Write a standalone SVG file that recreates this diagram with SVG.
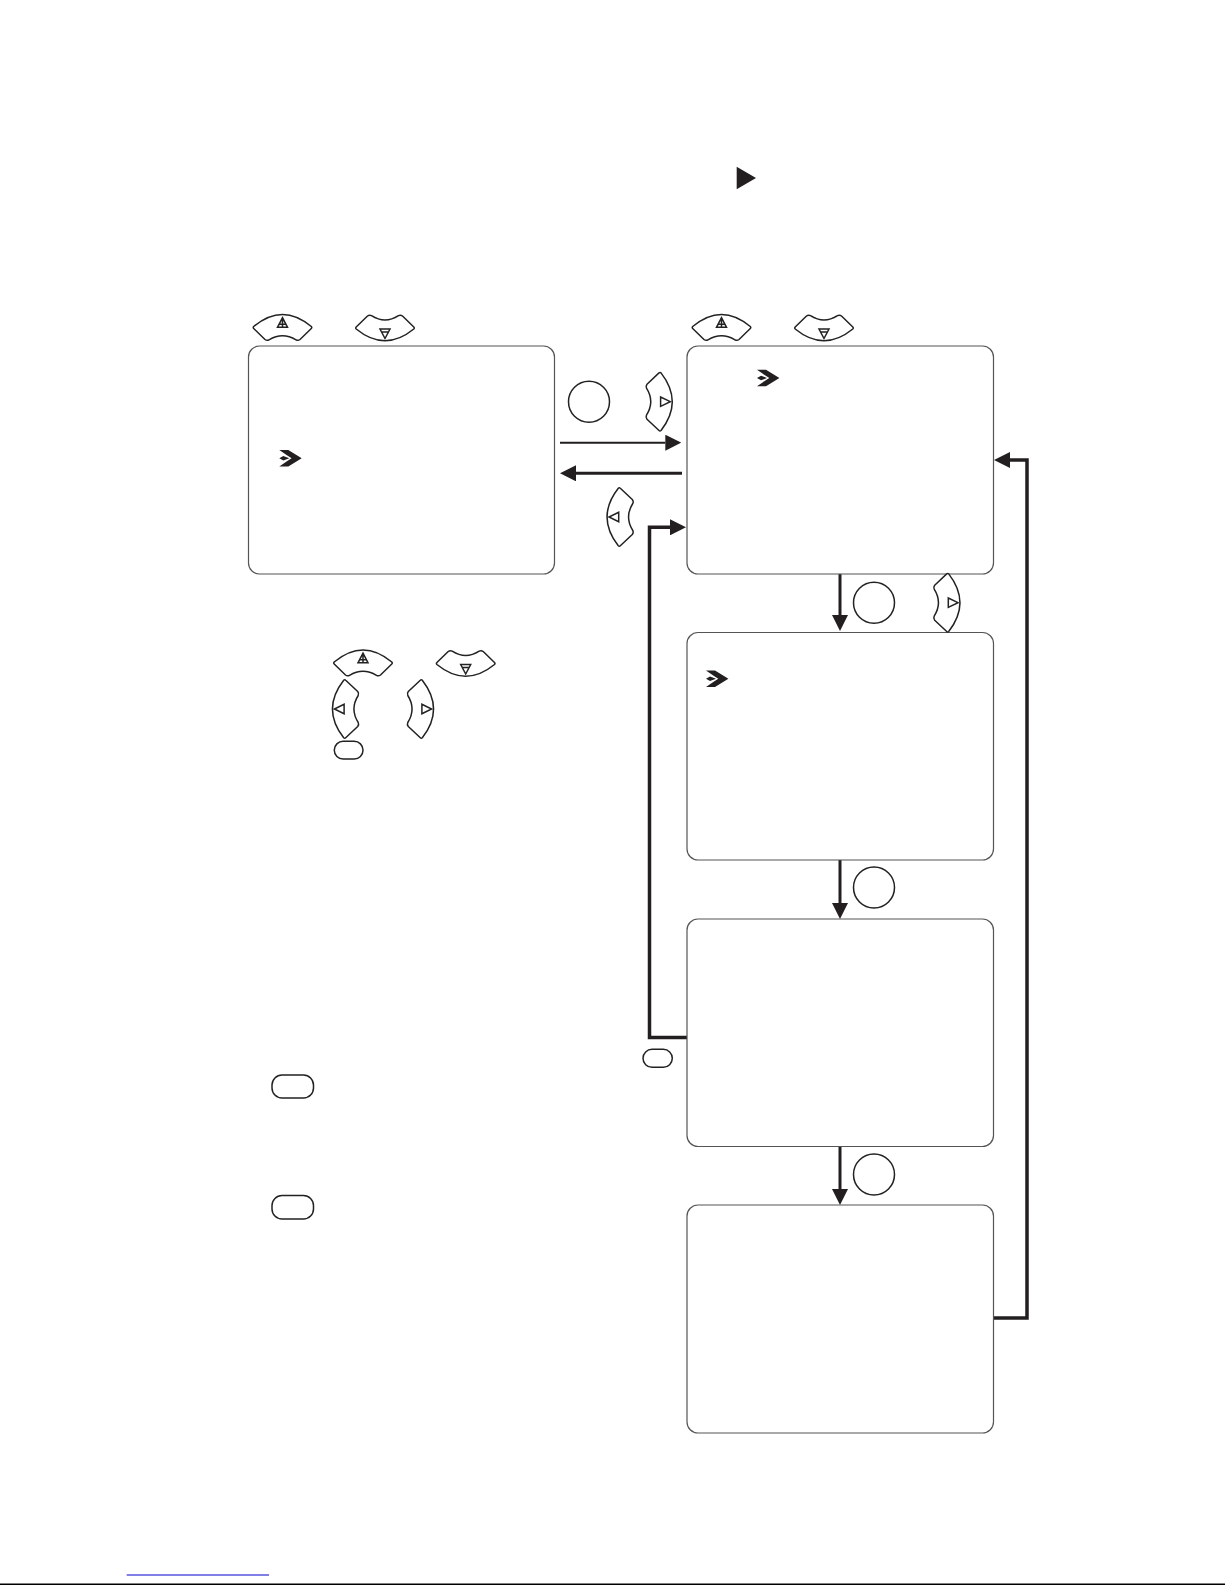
<svg xmlns="http://www.w3.org/2000/svg" width="1225" height="1585" viewBox="0 0 1225 1585">
<style>
.box{fill:#fff;stroke:#555;stroke-width:1.2}
.btn{fill:#fff;stroke:#222;stroke-width:1.5;stroke-linejoin:round}
.tri{fill:none;stroke:#222;stroke-width:1.5}
.c1{fill:none;stroke:#231f20;stroke-width:2}
.c2{fill:none;stroke:#231f20;stroke-width:3}
.c3{fill:none;stroke:#231f20;stroke-width:3.5;stroke-linejoin:miter}
.mk{fill:#231f20}
</style>
<defs>
<marker id="ah" markerUnits="userSpaceOnUse" markerWidth="16" markerHeight="16" viewBox="0 0 16 16" refX="0" refY="8" orient="auto"><path d="M0,0L16,8L0,16z" fill="#231f20"/></marker>
<g id="up"><path class="btn" d="M-28.8,-3.5 Q-29.8,-2.5 -28.8,-1.5 L-17.5,9.5 Q-15.5,11 -13.5,9.8 Q0,1.6 13.5,9.8 Q15.5,11 17.5,9.5 L28.8,-1.5 Q29.8,-2.5 28.8,-3.5 Q0,-27.6 -28.8,-3.5z"/><path class="tri" d="M-5,-2.7H5L0,-12.3z M-3.3,-5.7H3.3 M0,-12.3V-2.7"/></g>
<g id="down"><path class="btn" d="M-28.8,1.5 Q-29.8,0.5 -28.8,-0.5 L-17.5,-11.5 Q-15.5,-13 -13.5,-11.8 Q0,-3.2 13.5,-11.8 Q15.5,-13 17.5,-11.5 L28.8,-0.5 Q29.8,0.5 28.8,1.5 Q0,25 -28.8,1.5z"/><path class="tri" d="M-5,1.5H5L0,11z M-3.3,4.5H3.3"/></g>
<g id="right"><path class="btn" d="M-1,-28.8 Q0,-29.8 1,-28.8 Q23.5,0 1,28.8 Q0,29.8 -1,28.8 L-13,17.5 Q-14.5,15.5 -13.5,13.5 Q-5,0 -13.5,-13.5 Q-14.5,-15.5 -13,-17.5z"/><path class="tri" d="M0.6,-4.7V4.7L10.3,0z"/></g>
<g id="left"><path class="btn" d="M1,-28.8 Q0,-29.8 -1,-28.8 Q-23.5,0 -1,28.8 Q0,29.8 1,28.8 L13,17.5 Q14.5,15.5 13.5,13.5 Q5,0 13.5,-13.5 Q14.5,-15.5 13,-17.5z"/><path class="tri" d="M-0.6,-4.7V4.7L-10.3,0z"/></g>
<g id="chev"><path class="mk" d="M0,-8.3H9L22.4,0L9,8.3H0L8,2.7L12.3,0L8,-2.7z"/><path class="mk" d="M0,0L4,-2.3L10,0L4,2.3z"/></g>
</defs>

<g id="connectors">
<path class="c1" d="M560,442.7H665.3" marker-end="url(#ah)"/>
<path class="c2" d="M682,473.3H576" marker-end="url(#ah)"/>
<path class="c2" d="M840,574V615" marker-end="url(#ah)"/>
<path class="c2" d="M840,860V903" marker-end="url(#ah)"/>
<path class="c2" d="M840,1146V1189" marker-end="url(#ah)"/>
<path class="c3" d="M687,1037.5H649.5V527.3H670" marker-end="url(#ah)"/>
<path class="c3" d="M994,1318H1027V460H1010" marker-end="url(#ah)"/>
</g>

<g id="box-menu"><rect class="box" x="248.5" y="346" width="306" height="228" rx="11"/><use href="#chev" x="279.3" y="458.3"/></g>
<g id="box-1"><rect class="box" x="687" y="346" width="306.5" height="228" rx="11"/><use href="#chev" x="757" y="378"/></g>
<g id="box-2"><rect class="box" x="687" y="632.5" width="306.5" height="227.5" rx="11"/><use href="#chev" x="706" y="678.7"/></g>
<g id="box-3"><rect class="box" x="687" y="919" width="306.5" height="227.5" rx="11"/></g>
<g id="box-4"><rect class="box" x="687" y="1205" width="306.5" height="228" rx="11"/></g>

<g id="btn-up-1"><use href="#up" x="282.5" y="330"/></g>
<g id="btn-down-1"><use href="#down" x="385" y="327.5"/></g>
<g id="btn-up-2"><use href="#up" x="721.5" y="330"/></g>
<g id="btn-down-2"><use href="#down" x="824" y="327.5"/></g>
<g id="btn-up-3"><use href="#up" x="363" y="665.5"/></g>
<g id="btn-down-3"><use href="#down" x="465.7" y="663"/></g>
<g id="btn-left-3"><use href="#left" x="344.7" y="709"/></g>
<g id="btn-right-3"><use href="#right" x="421.3" y="709"/></g>
<g id="btn-right-1"><use href="#right" x="660" y="401.7"/></g>
<g id="btn-left-1"><use href="#left" x="619.3" y="517"/></g>
<g id="btn-right-2"><use href="#right" x="947.7" y="602.7"/></g>
<g id="ok-1"><circle class="btn" cx="589" cy="401.7" r="20.5"/></g>
<g id="ok-2"><circle class="btn" cx="874" cy="602.7" r="20.5"/></g>
<g id="ok-3"><circle class="btn" cx="874" cy="887.5" r="20.5"/></g>
<g id="ok-4"><circle class="btn" cx="874" cy="1174.5" r="20.5"/></g>
<g id="oval-1"><rect class="btn" x="334.3" y="741.3" width="28.7" height="17.7" rx="8.8"/></g>
<g id="oval-2"><rect class="btn" x="643" y="1049.3" width="29.3" height="18" rx="9"/></g>
<g id="oval-3"><rect class="btn" x="272" y="1075" width="41.5" height="23" rx="10"/></g>
<g id="oval-4"><rect class="btn" x="272" y="1195.5" width="41.5" height="23.5" rx="10"/></g>
<g id="play"><path fill="#231f20" d="M736.7,166.7L756,178L736.7,189.3z"/></g>
<g id="footer">
<rect x="126.7" y="1574.5" width="142.3" height="1" fill="#0000cc"/>
<rect x="0" y="1583.5" width="1225" height="1.5" fill="#000"/>
</g>
</svg>
